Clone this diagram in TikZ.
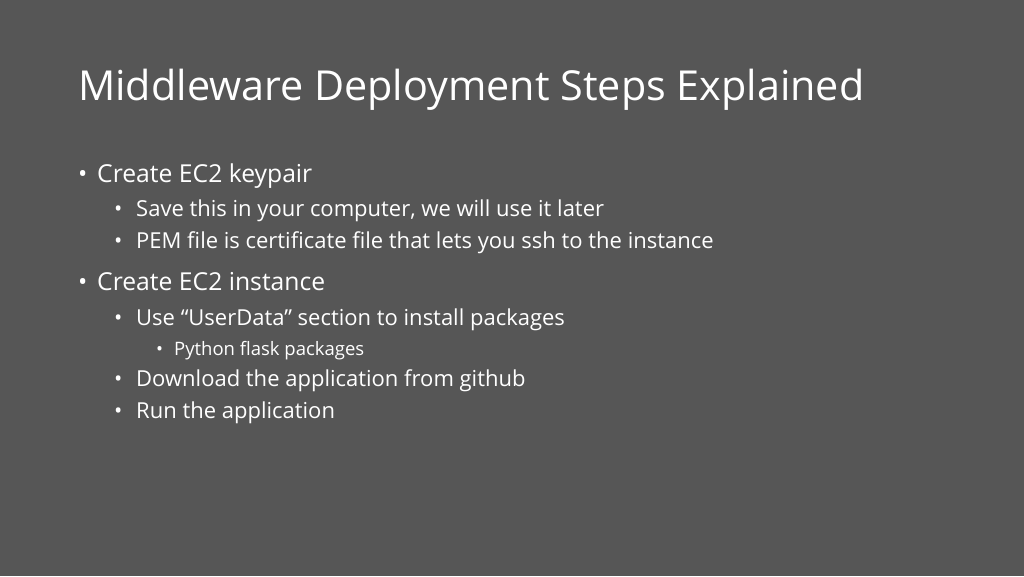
\documentclass[tikz,border=0pt]{standalone}
\usepackage{fontspec}
\setmainfont{Open Sans}
\definecolor{bg}{HTML}{565656}
\begin{document}
\begin{tikzpicture}[x=1pt,y=-1pt,
  txt/.style={anchor=base west,inner sep=0pt,text=white},
  la/.style={txt,font=\fontsize{24.7}{30}\selectfont},
  lb/.style={txt,font=\fontsize{22}{26}\selectfont},
  lc/.style={txt,font=\fontsize{18.5}{21}\selectfont}]
\fill[bg] (0,0) rectangle (1024,576);
\useasboundingbox (0,0) rectangle (1024,576);
\node[txt,font=\fontsize{41.3}{48}\selectfont] (title) at (78,100) {Middleware Deployment Steps Explained};
\node[la] (b1) at (78,182) {•};
\node[la] (t1) at (97,182) {Create EC2 keypair};
\node[lb] (b2) at (114,216) {•};
\node[lb] (t2) at (136,216) {Save this in your computer, we will use it later};
\node[lb] (b3) at (114,248) {•};
\node[lb] (t3) at (136,248) {PEM file is certificate file that lets you ssh to the instance};
\node[la] (b4) at (78,290) {•};
\node[la] (t4) at (97,290) {Create EC2 instance};
\node[lb] (b5) at (114,325) {•};
\node[lb] (t5) at (136,325) {Use “UserData” section to install packages};
\node[lc] (b6) at (156,355) {•};
\node[lc] (t6) at (174,355) {Python flask packages};
\node[lb] (b7) at (114,386) {•};
\node[lb] (t7) at (136,386) {Download the application from github};
\node[lb] (b8) at (114,418) {•};
\node[lb] (t8) at (136,418) {Run the application};
\end{tikzpicture}
\end{document}
